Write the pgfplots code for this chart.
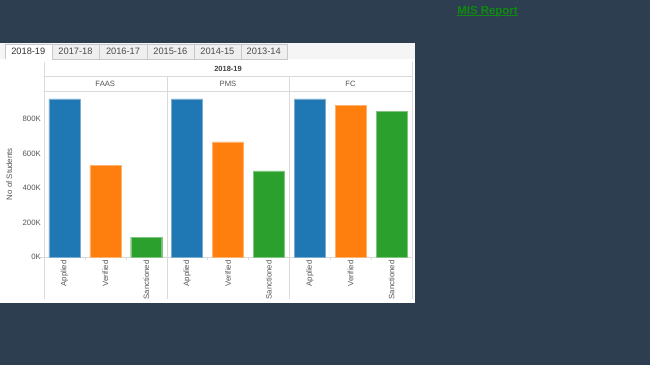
\documentclass[border=0pt]{standalone}
\usepackage{pgfplots}
\pgfplotsset{compat=1.18}
\usepackage{fontspec}
\setmainfont{Liberation Sans}
\definecolor{bgdark}{HTML}{2C3E50}
\definecolor{tblue}{HTML}{1F77B4}
\definecolor{torange}{HTML}{FF7F0E}
\definecolor{tgreen}{HTML}{2CA02C}
\definecolor{txtgray}{HTML}{555555}
\definecolor{linegray}{HTML}{DADADA}
\definecolor{tabgray}{HTML}{EFEFEF}
\definecolor{tabline}{HTML}{C8C8C8}
\definecolor{misgreen}{HTML}{108A10}
\begin{document}
\begin{tikzpicture}[x=1bp,y=1bp]
\fill[bgdark] (0,0) rectangle (650,365);
\fill[white] (0,365-43) rectangle (415,365-303);
\fill[white!96!black] (0,365-43) rectangle (415,365-59);
% tabs
\foreach \a/\b/\t in {51.7/99.3/2017-18,99.3/146.7/2016-17,146.7/194/2015-16,194/240.7/2014-15,240.7/286.7/2013-14}{
  \filldraw[fill=tabgray,draw=tabline] (\a,365-44) rectangle (\b,365-59);
  \node[font=\fontsize{9.3}{10}\selectfont,text=black!70] at ({(\a+\b)/2},365-51.5) {\t};
}
\filldraw[fill=white,draw=tabline] (5,365-59) -- (5,365-44) -- (51.7,365-44) -- (51.7,365-59);
\node[font=\fontsize{9.3}{10}\selectfont,text=black!80] at (28.3,365-51.5) {2018-19};
% MIS Report
\node[font=\fontsize{11.5}{12}\selectfont\bfseries,text=misgreen,inner sep=0pt,anchor=base] (mis) at (487.5,365-14) {MIS Report};
\draw[misgreen, line width=0.9bp] ([yshift=-1.6bp]mis.base west) -- ([yshift=-1.6bp]mis.base east);
% panel frame lines
\draw[linegray] (44,365-62) -- (44,365-299);
\draw[linegray] (166.7,365-76) -- (166.7,365-299);
\draw[linegray] (289.3,365-76) -- (289.3,365-299);
\draw[linegray] (412,365-62) -- (412,365-299);
\draw[linegray] (44,365-76) -- (412,365-76);
\draw[linegray] (44,365-91) -- (412,365-91);
\draw[linegray] (40,365-257.3) -- (412,365-257.3);
% headers
\node[font=\fontsize{7.5}{8}\selectfont\bfseries,text=black!75] at (228,365-69) {2018-19};
\node[font=\fontsize{7.7}{8}\selectfont,text=txtgray] at (105.3,365-83.5) {FAAS};
\node[font=\fontsize{7.7}{8}\selectfont,text=txtgray] at (228,365-83.5) {PMS};
\node[font=\fontsize{7.7}{8}\selectfont,text=txtgray] at (350.6,365-83.5) {FC};
\begin{axis}[
  at={(44bp,107.7bp)}, anchor=south west,
  width=368bp, height=166.3bp, scale only axis,
  xmin=0, xmax=9, ymin=0, ymax=962000,
  axis line style={draw=none},
  xtick={0.5,1.5,...,8.5},
  xticklabels={Applied,Verified,Sanctioned,Applied,Verified,Sanctioned,Applied,Verified,Sanctioned},
  xticklabel style={rotate=90, anchor=east, font=\fontsize{7.8}{8}\selectfont, text=txtgray, inner sep=1pt},
  xticklabel shift=2bp,
  ytick={0,200000,400000,600000,800000},
  yticklabels={0K,200K,400K,600K,800K},
  yticklabel style={font=\fontsize{7.8}{8}\selectfont, text=txtgray, inner sep=1pt},
  yticklabel shift=2bp,
  scaled y ticks=false,
  major tick length=0pt,
  ylabel={No of Students},
  ylabel style={font=\fontsize{7.9}{8}\selectfont, text=txtgray, at={(axis description cs:-0.094,0.50)}, anchor=center},
  clip=false,
]
\addplot[ybar, bar width=31bp, fill=tblue, draw=tblue!60!white] coordinates {(0.5,916000) (3.5,916000) (6.5,916000)};
\addplot[ybar, bar width=31bp, fill=torange, draw=torange!60!white] coordinates {(1.5,533000) (4.5,667000) (7.5,877000)};
\addplot[ybar, bar width=31bp, fill=tgreen, draw=tgreen!60!white] coordinates {(2.5,116000) (5.5,500000) (8.5,844000)};
\pgfplotsinvokeforeach{1,2,4,5,7,8}{
  \draw[linegray] (axis cs:#1,0) -- ++(0,-3bp);
}
\end{axis}
\end{tikzpicture}
\end{document}
